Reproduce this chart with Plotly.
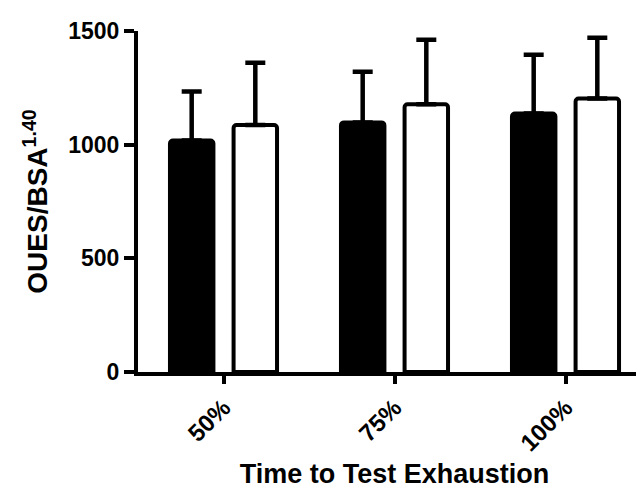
import plotly.graph_objects as go

categories = ["50%", "75%", "100%"]
group_a = [1018, 1098, 1137]
group_a_err = [216, 223, 258]
group_b = [1086, 1178, 1203]
group_b_err = [274, 283, 267]
y_ticks = [0, 500, 1000, 1500]

FONT = "Liberation Sans, Arial, sans-serif"

fig = go.Figure()
fig.add_trace(go.Bar(
    x=categories, y=group_a,
    marker=dict(color="black", line=dict(color="black", width=4)),
    error_y=dict(type="data", symmetric=False, array=group_a_err,
                 arrayminus=[0] * len(group_a), color="black",
                 thickness=4.5, width=10),
    showlegend=False,
))
fig.add_trace(go.Bar(
    x=categories, y=group_b,
    marker=dict(color="white", line=dict(color="black", width=4)),
    error_y=dict(type="data", symmetric=False, array=group_b_err,
                 arrayminus=[0] * len(group_b), color="black",
                 thickness=4.5, width=10),
    showlegend=False,
))

fig.update_layout(
    width=644, height=489,
    margin=dict(l=130, r=1, t=23, b=125),
    paper_bgcolor="white", plot_bgcolor="white",
    barmode="group", bargap=0.256, bargroupgap=0.317,
    barcornerradius=3,
    font=dict(family=FONT, color="black"),
)
fig.update_xaxes(
    range=[-0.5, 2.5], showline=True, linecolor="black", linewidth=4,
    ticks="outside", ticklen=8, tickwidth=3.5, tickcolor="black",
    tickangle=-45, tickfont=dict(size=24, weight="bold", family=FONT),
    showgrid=False, zeroline=False,
    title=dict(text="Time to Test Exhaustion",
               font=dict(size=27, weight="bold", family=FONT), standoff=10),
)
fig.update_yaxes(
    range=[0, 1500], tickvals=y_ticks, showline=True, linecolor="black",
    linewidth=4, ticks="outside", ticklen=10, tickwidth=3.5, tickcolor="black",
    tickfont=dict(size=23, weight="bold", family=FONT),
    showgrid=False, zeroline=False,
    title=dict(text="OUES/BSA<sup>1.40</sup>",
               font=dict(size=28, weight="bold", family=FONT), standoff=13),
)

fig.write_html("out.html")
